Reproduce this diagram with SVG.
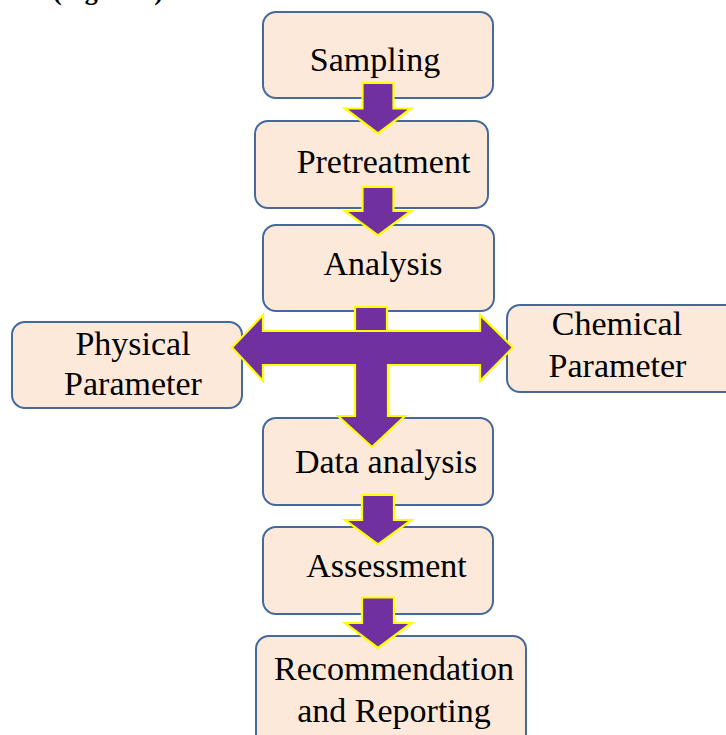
<svg xmlns="http://www.w3.org/2000/svg" width="726" height="735" viewBox="0 0 726 735">
<style>
.box{fill:#FDE9DA;stroke:#44699A;stroke-width:2}
.arr{fill:#7030A0;stroke:#FFFF00;stroke-width:2.2;stroke-linejoin:miter}
.t{font-family:"Liberation Serif","Times New Roman",serif;font-size:34px;fill:#000;text-anchor:middle}
.cap{font-family:"Liberation Serif","Times New Roman",serif;font-size:26px;font-weight:bold;fill:#000}
</style>
<rect width="726" height="735" fill="#fff"/>
<text class="cap" x="53" y="0">(Figure 3)</text>
<g id="n-sampling"><rect class="box" x="263" y="12" width="230" height="86" rx="13"/><text class="t" x="375" y="71">Sampling</text></g>
<g id="n-pretreatment"><rect class="box" x="255" y="121" width="233" height="87" rx="13"/><text class="t" x="383.5" y="173">Pretreatment</text></g>
<g id="n-analysis"><rect class="box" x="263" y="225" width="231" height="86" rx="13"/><text class="t" x="383" y="275">Analysis</text></g>
<g id="n-physical"><rect class="box" x="12" y="322" width="230" height="86" rx="13"/><text class="t" x="133" y="355">Physical</text><text class="t" x="133" y="395">Parameter</text></g>
<g id="n-chemical"><rect class="box" x="507" y="305" width="232" height="87" rx="13"/><text class="t" x="617" y="335">Chemical</text><text class="t" x="617.5" y="377">Parameter</text></g>
<g id="n-data"><rect class="box" x="263" y="418" width="230" height="87" rx="13"/><text class="t" x="386" y="473">Data analysis</text></g>
<g id="n-assessment"><rect class="box" x="263" y="527" width="230" height="87" rx="13"/><text class="t" x="386.5" y="577">Assessment</text></g>
<g id="n-report"><rect class="box" x="256" y="636" width="270" height="120" rx="13"/><text class="t" x="394" y="680">Recommendation</text><text class="t" x="394" y="722">and Reporting</text></g>
<g id="connectors">
<path class="arr" d="M362.5,83 H393.5 V108.5 H411 L378,133.5 L345,108.5 H362.5 Z"/>
<path class="arr" d="M362.5,187 H393.5 V211 H411 L378,235.5 L345,211 H362.5 Z"/>
<path class="arr" d="M355,307 H387 V331 H355 Z"/>
<path class="arr" d="M263,331 H480 V315 L513,347.5 L480,381 V365 H388 V416 H405 L372,447 L338,416 H355 V365 H263 V381 L232,347.5 L263,315 Z"/>
<path class="arr" d="M362,495 H394 V520 H411.5 L378,544.5 L345,520 H362 Z"/>
<path class="arr" d="M362,597.5 H394 V623 H411.5 L378,648 L345,623 H362 Z"/>
</g>
</svg>
